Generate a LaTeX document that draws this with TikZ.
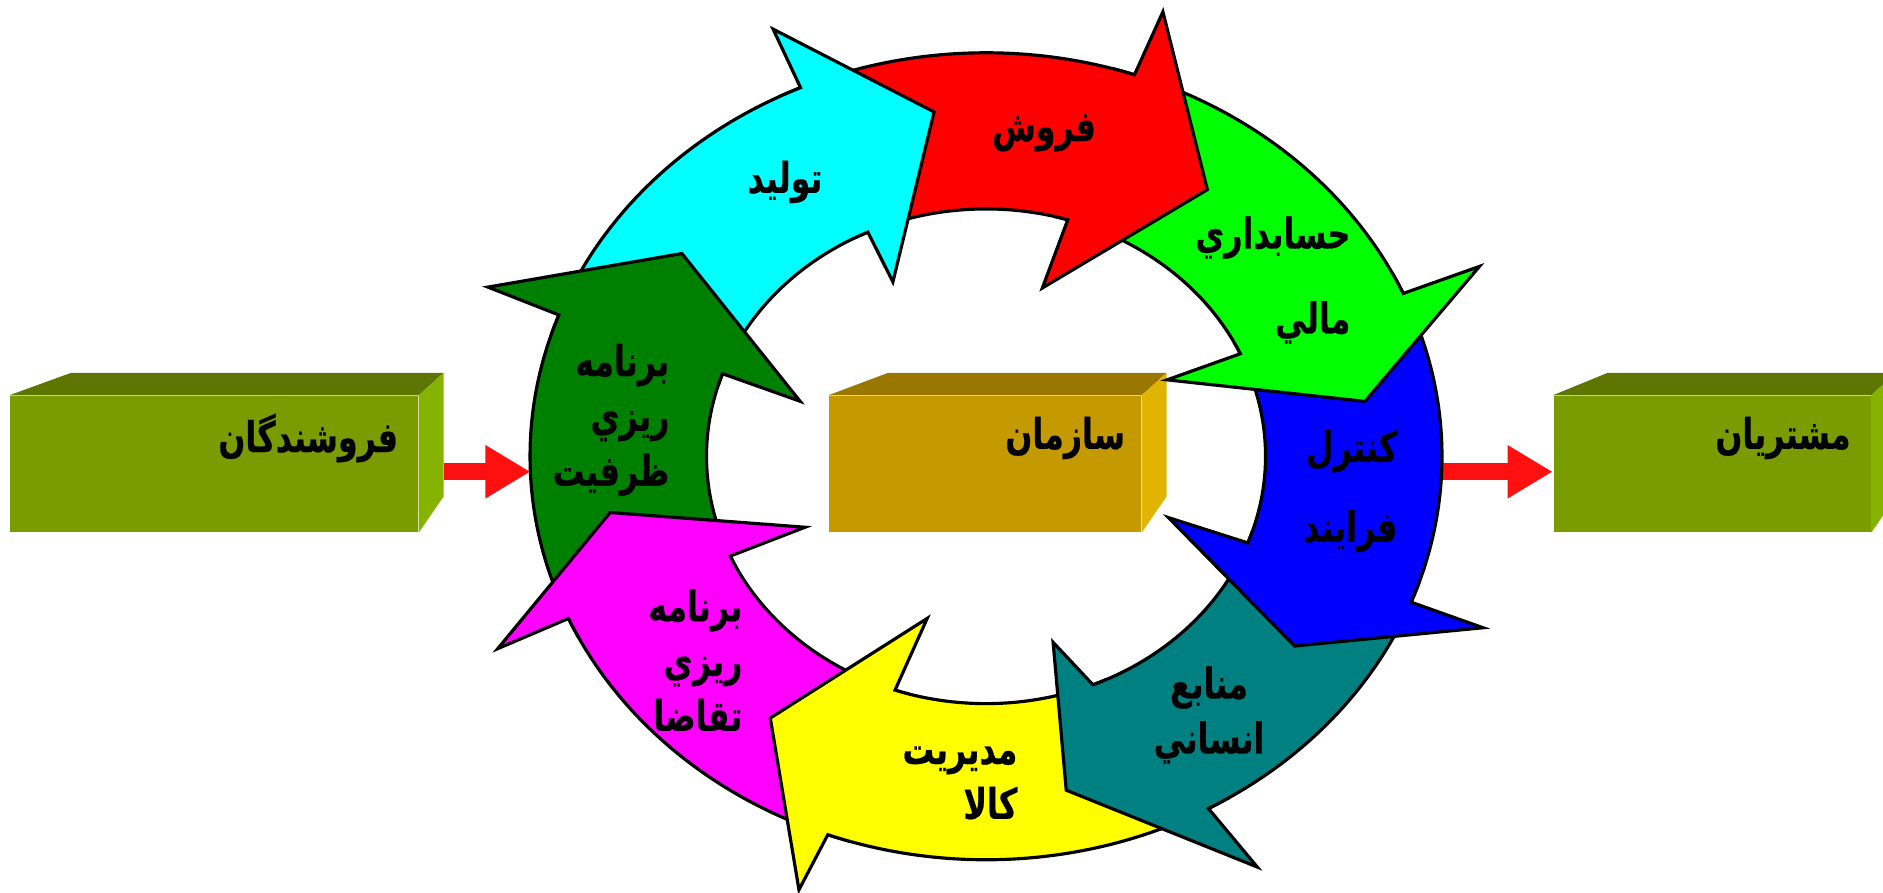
\documentclass[tikz,border=0pt]{standalone}
\usepackage{fontspec}
\newfontfamily\arabicfont[Script=Arabic, FakeStretch=0.75, FakeBold=0.5]{DejaVu Sans}
\TeXXeTstate=1
\usetikzlibrary{arrows.meta}

\definecolor{olivefront}{RGB}{122,156,0}
\definecolor{olivetop}{RGB}{92,118,0}
\definecolor{oliveside}{RGB}{134,178,0}
\definecolor{goldfront}{RGB}{196,154,0}
\definecolor{goldtop}{RGB}{154,120,0}
\definecolor{goldside}{RGB}{224,180,0}
\definecolor{flowred}{RGB}{255,16,16}
\definecolor{cyanfill}{RGB}{0,255,255}
\definecolor{redfill}{RGB}{255,0,0}
\definecolor{greenfill}{RGB}{0,255,0}
\definecolor{bluefill}{RGB}{0,0,255}
\definecolor{tealfill}{RGB}{0,128,128}
\definecolor{yellowfill}{RGB}{255,255,0}
\definecolor{magentafill}{RGB}{255,0,255}
\definecolor{darkgreenfill}{RGB}{0,128,0}

% text de la dreapta la stanga
\newcommand{\fa}[1]{\beginR #1\endR}
% segment de inel: culoare, coada (ext, int), baza varfului (ext, int)
\newcommand{\ringband}[5]{%
  \filldraw[fill=#1, rim] (#2:1) arc[start angle=#2, end angle=#4, radius=1]
    -- (#5:0.613) arc[start angle=#5, end angle=#3, radius=0.613];}
% varf: culoare, baza (ext, int), colt ext, varf, colt int
\newcommand{\ringhead}[6]{%
  \filldraw[fill=#1, rim] ({#2+3}:1) arc[start angle={#2+3}, end angle=#2, radius=1]
    -- (#4) -- (#5) -- (#6) -- (#3:0.613) arc[start angle=#3, end angle={#3+3}, radius=0.613];}

\begin{document}
\begin{tikzpicture}[
    face/.style={rectangle, inner sep=0pt, minimum height=1.36cm},
    lbl/.style={font=\arabicfont\bfseries\fontsize{12}{15.6}\selectfont, inner sep=0pt},
    rim/.style={draw=black, line width=0.9pt},
    flow/.style={draw=flowred, line width=0.17cm, -{Triangle[length=0.45cm, width=0.5cm]}}
]
\useasboundingbox (0,0) rectangle (18.83,8.93);
\clip (0,0) rectangle (18.83,8.93);

% Cutii
\node[face, fill=olivefront, minimum width=4.08cm] (supp) at (2.14,4.29) {};
\node[face, fill=goldfront, minimum width=3.12cm] (org) at (9.85,4.29) {};
\node[face, fill=olivefront, minimum width=3.17cm] (cust) at (17.12,4.29) {};

\fill[olivetop] (supp.north west) -- ++(0.62,0.225) -- ([shift={(0.25,0.225)}]supp.north east) -- (supp.north east) -- cycle;
\fill[oliveside] (supp.north east) -- ++(0.25,0.225) -- ++(0,-1.235) -- (supp.south east) -- cycle;
\fill[goldtop] (org.north west) -- ++(0.6,0.225) -- ([shift={(0.25,0.225)}]org.north east) -- (org.north east) -- cycle;
\fill[goldside] (org.north east) -- ++(0.25,0.225) -- ++(0,-1.235) -- (org.south east) -- cycle;
\fill[olivetop] (cust.north west) -- ++(0.55,0.225) -- ([shift={(0.25,0.225)}]cust.north east) -- (cust.north east) -- cycle;
\fill[oliveside] (cust.north east) -- ++(0.25,0.225) -- ++(0,-1.235) -- (cust.south east) -- cycle;

\node[lbl, anchor=east] (supptxt) at ([shift={(-0.2,0.26)}]supp.east) {\fa{فروشندگان}};
\node[lbl, anchor=east] (orgtxt) at ([shift={(-0.16,0.26)}]org.east) {\fa{سازمان}};
\node[lbl, anchor=east] (custtxt) at ([shift={(-0.2,0.26)}]cust.east) {\fa{مشتريان}};

\coordinate (suppside) at ([xshift=0.25cm]supp.east);

% Inel
\begin{scope}[shift={(9.86,4.367)}, xscale=4.56, yscale=4.035]
\coordinate (ringW) at (182.2:1);
\coordinate (ringE) at (-2.2:1);

\draw[flow] (suppside |- ringW) -- (ringW);
\draw[flow] (ringE) -- (cust.west |- ringE);

\ringband{cyanfill}{159.5}{160.5}{114}{115}
\ringband{redfill}{114}{115}{71}{73}
\ringband{greenfill}{71}{73}{23.8}{24.5}
\ringband{bluefill}{23.8}{24.5}{-21.2}{-20.5}
\ringband{tealfill}{-21.2}{-20.5}{-60.8}{-67.5}
\ringband{yellowfill}{-60.8}{-67.5}{-110.3}{-109}
\ringband{magentafill}{-110.3}{-109}{-156.3}{-156.2}
\ringband{darkgreenfill}{-156.3}{-156.2}{-200.5}{-199.5}

\ringhead{cyanfill}{114}{115}{113.8:1.157}{97.6:0.861}{115.3:0.478}
\ringhead{redfill}{71}{73}{70.6:1.168}{53.7:0.82}{73.5:0.435}
\ringhead{greenfill}{23.8}{24.5}{23.5:1.18}{9.3:0.842}{25.5:0.44}
\ringhead{bluefill}{-21.2}{-20.5}{-21.3:1.17}{-34.8:0.824}{-20.8:0.428}
\ringhead{tealfill}{-60.8}{-67.5}{-59.7:1.179}{-78:0.846}{-72.3:0.484}
\ringhead{yellowfill}{-110.3}{-109}{-110.9:1.15}{-126.1:0.803}{-107.8:0.422}
\ringhead{magentafill}{-156.3}{-156.2}{-156:1.172}{-170.4:0.836}{-156.1:0.434}
\ringhead{darkgreenfill}{159.5}{160.5}{159:1.17}{143:0.835}{161.5:0.43}
\end{scope}

% Etichete
\node[lbl] (prod) at (7.85,7.11) {\fa{توليد}};
\node[lbl] (sales) at (10.44,7.6) {\fa{فروش}};
\node[lbl, align=right, anchor=east] (acct) at (13.51,6.13) {\fa{حسابداري}\\[0.3cm]\fa{مالي}};
\node[lbl, align=right, anchor=east] (ctrl) at (13.98,4.02) {\fa{كنترل}\\[0.25cm]\fa{فرايند}};
\node[lbl, align=center] (hr) at (12.09,1.78) {\fa{منابع}\\\fa{انساني}};
\node[lbl, align=right, anchor=east] (goods) at (10.18,1.10) {\fa{مديريت}\\\fa{كالا}};
\node[lbl, align=right, anchor=east] (demand) at (7.43,2.33) {\fa{برنامه}\\\fa{ريزي}\\\fa{تقاضا}};
\node[lbl, align=right, anchor=east] (capacity) at (6.70,4.73) {\fa{برنامه}\\\fa{ريزي}\\\fa{ظرفيت}};

\end{tikzpicture}
\end{document}
